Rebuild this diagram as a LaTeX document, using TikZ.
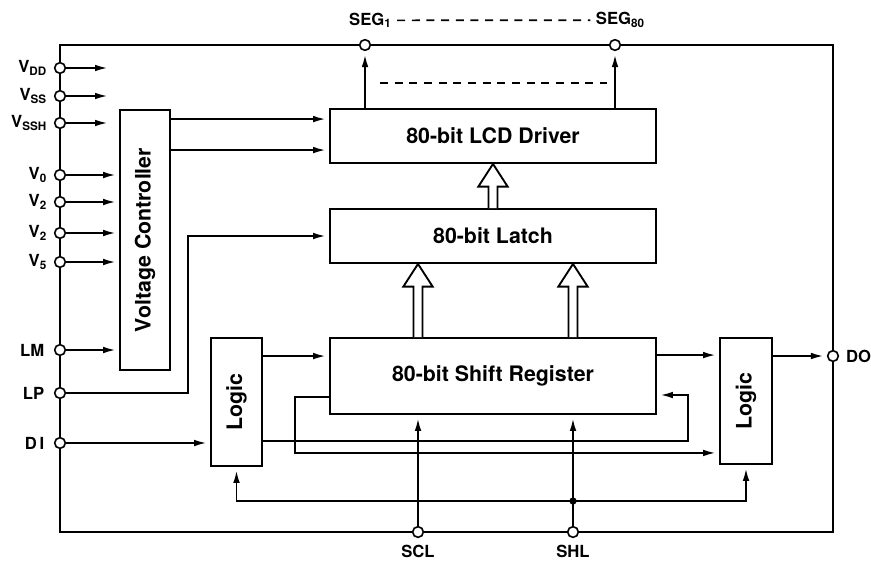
\documentclass[tikz,border=0pt]{standalone}
\usepackage{fontspec}
\setmainfont{TeX Gyre Heros}
\usepackage{graphicx}
\usetikzlibrary{arrows.meta,positioning,calc}
\tikzset{
  block/.style={draw, line width=1.4pt, inner sep=0pt, align=center, font=\bfseries\fontsize{16}{18}\selectfont},
  terminal/.style={draw, circle, fill=white, line width=1.2pt, minimum size=8pt, inner sep=0pt},
  pinlabel/.style={font=\bfseries\fontsize{12.5}{14}\selectfont, inner sep=1pt},
  junction/.style={circle, fill=black, minimum size=5.5pt, inner sep=0pt},
  wire/.style={line width=1.4pt},
  line/.style={-{Latex[length=9.5pt,width=5pt]}, line width=1.4pt, shorten >=2.5pt},
  dashedline/.style={line width=1.3pt, dash pattern=on 6pt off 5pt}
}
% hollow bus arrow from #1 (tail) up to #2 (tip)
\newcommand{\busarrow}[2]{%
  \draw[wire, fill=white] let \p1=(#1), \p2=(#2) in
    (\x1-3.4pt,\y1) -- (\x1-3.4pt,\y2-17pt) -- (\x1-11pt,\y2-17pt) -- (\x1,\y2)
    -- (\x1+11pt,\y2-17pt) -- (\x1+3.4pt,\y2-17pt) -- (\x1+3.4pt,\y1);}

\begin{document}
\begin{tikzpicture}[x=0.75pt, y=-0.75pt]
  \useasboundingbox (0,0) rectangle (871,565);
  % package outline
  \draw[wire] (60,45) rectangle (833,532);

  % blocks
  \node[block, minimum width=244.5pt, minimum height=40.5pt] (lcd) at (493,136) {80-bit LCD Driver};
  \node[block, minimum width=244.5pt, minimum height=40.5pt] (latch) at (493,236) {80-bit Latch};
  \node[block, minimum width=244.5pt, minimum height=57pt] (shift) at (493,376) {80-bit Shift Register};
  \node[block, minimum width=37.5pt, minimum height=195pt] (vc) at (145,240) {\rotatebox{90}{Voltage Controller}};
  \node[block, minimum width=38.25pt, minimum height=96pt] (logicL) at (236.5,402) {\rotatebox{90}{Logic}};
  \node[block, minimum width=39pt, minimum height=94.5pt] (logicR) at (746,401) {\rotatebox{90}{Logic}};

  % terminals
  \node[terminal] (vdd) at (60,68) {};
  \node[terminal] (vss) at (60,96) {};
  \node[terminal] (vssh) at (60,123) {};
  \node[terminal] (v0) at (60,175) {};
  \node[terminal] (v2) at (60,202) {};
  \node[terminal] (v3) at (60,233) {};
  \node[terminal] (v5) at (60,262) {};
  \node[terminal] (lm) at (60,350) {};
  \node[terminal] (lp) at (60,393) {};
  \node[terminal] (di) at (60,443) {};
  \node[terminal] (do) at (833,356) {};
  \node[terminal] (seg1) at (365,45) {};
  \node[terminal] (seg80) at (615,45) {};
  \node[terminal] (scl) at (418,532) {};
  \node[terminal] (shl) at (573,532) {};
  \node[junction] (ctl) at (573,501) {};

  % terminal labels
  \node[pinlabel, left=4pt of vdd] {V\textsubscript{DD}};
  \node[pinlabel, left=4pt of vss] {V\textsubscript{SS}};
  \node[pinlabel, left=4pt of vssh] {V\textsubscript{SSH}};
  \node[pinlabel, left=4pt of v0] {V\textsubscript{0}};
  \node[pinlabel, left=4pt of v2] {V\textsubscript{2}};
  \node[pinlabel, left=4pt of v3] {V\textsubscript{2}};
  \node[pinlabel, left=4pt of v5] {V\textsubscript{5}};
  \node[pinlabel, left=6pt of lm] {LM};
  \node[pinlabel, left=6pt of lp] {LP};
  \node[pinlabel, left=6pt of di] {D\,I};
  \node[pinlabel, right=4pt of do] {DO};
  \node[pinlabel, above=7pt of seg1, xshift=4pt] (seg1lbl) {SEG\textsubscript{1}};
  \node[pinlabel, above=7pt of seg80, xshift=4pt] (seg80lbl) {SEG\textsubscript{80}};
  \node[pinlabel, below=4pt of scl] {SCL};
  \node[pinlabel, below=4pt of shl] {SHL};

  % helper points
  \coordinate (supplyend) at (111,0);
  \coordinate (lpbend) at (188,0);
  \coordinate (dashrow) at (0,83);
  \coordinate (fbR) at (688,395);
  \coordinate (fbL) at (295,397);
  \coordinate (vcout1) at ([yshift=-7.5pt]vc.north east);
  \coordinate (vcout2) at ([yshift=-30.75pt]vc.north east);
  \coordinate (llout) at ([yshift=-14.25pt]logicL.north east);
  \coordinate (srout) at ([yshift=-13.5pt]shift.north east);

  % supply inputs
  \draw[line] (vdd) -- (vdd -| supplyend);
  \draw[line] (vss) -- (vss -| supplyend);
  \draw[line] (vssh) -- (vssh -| supplyend);
  \draw[line] (v0) -- (v0 -| vc.west);
  \draw[line] (v2) -- (v2 -| vc.west);
  \draw[line] (v3) -- (v3 -| vc.west);
  \draw[line] (v5) -- (v5 -| vc.west);
  \draw[line] (lm) -- (lm -| vc.west);
  \draw[line] (vcout1) -- (vcout1 -| lcd.west);
  \draw[line] (vcout2) -- (vcout2 -| lcd.west);

  % latch pulse and data in
  \draw[line] (lp) -- (lp -| lpbend) -- (lpbend |- latch.west) -- (latch.west);
  \draw[line] (di) -- (di -| logicL.west);

  % shift path
  \draw[line] (llout) -- (llout -| shift.west);
  \draw[line] (srout) -- (srout -| logicR.west);
  \draw[line] (do -| logicR.east) -- (do);
  \draw[line] ([yshift=19.5pt]logicL.south east) -| (fbR) -- (fbR -| shift.east);
  \draw[line] (fbL -| shift.west) -- (fbL) |- ([yshift=9pt]logicR.south west);

  % clock and direction
  \draw[line] (scl) -- (scl |- shift.south);
  \draw[line] (shl) -- (shl |- shift.south);
  \draw[line] (ctl.center) -| (logicL.south);
  \draw[line] (ctl.center) -| (logicR.south);

  % parallel buses
  \busarrow{latch.north}{lcd.south}
  \busarrow{scl |- shift.north}{scl |- latch.south}
  \busarrow{shl |- shift.north}{shl |- latch.south}

  % segment outputs
  \draw[line] (seg1 |- lcd.north) -- (seg1);
  \draw[line] (seg80 |- lcd.north) -- (seg80);
  \draw[dashedline] ($(seg1 |- dashrow)+(15,0)$) -- ($(seg80 |- dashrow)+(-8,0)$);
  \draw[dashedline, shorten <=3pt, shorten >=3pt] (seg1lbl.east) -- (seg80lbl.west);
\end{tikzpicture}
\end{document}
